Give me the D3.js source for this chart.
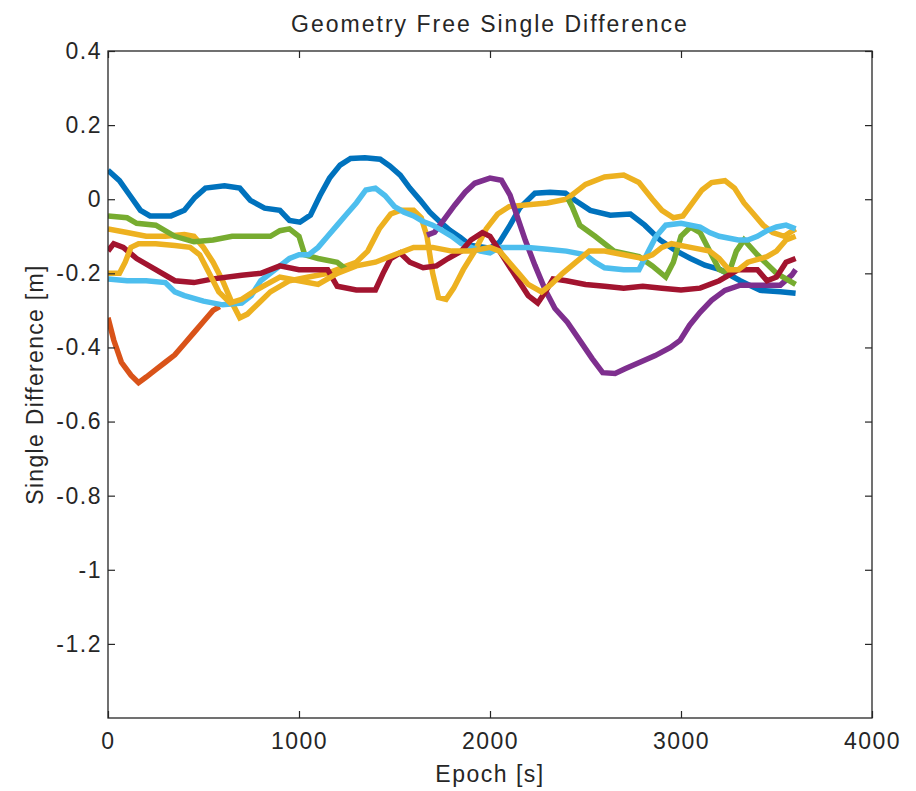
<!DOCTYPE html>
<meta charset="utf-8">
<style>
  body { margin: 0; background: #fff; }
  text { font-family: "Liberation Sans", Arial, Helvetica, sans-serif; fill: #262626; }
</style>
<body>
<script src="https://d3js.org/d3.v7.min.js"></script>
<script>

// satellite single differences, [epoch s, value m]
var sat1 = [[0,0.078],[60,0.05],[115,0.01],[170,-0.03],[220,-0.045],[330,-0.045],[400,-0.03],[455,0.005],[510,0.03],[610,0.036],[690,0.03],[745,-0.003],[820,-0.024],[900,-0.03],[950,-0.057],[1005,-0.062],[1060,-0.043],[1110,0.01],[1160,0.057],[1215,0.092],[1270,0.11],[1345,0.112],[1425,0.108],[1475,0.09],[1530,0.065],[1580,0.03],[1635,-0.003],[1685,-0.035],[1740,-0.062],[1790,-0.084],[1845,-0.103],[1895,-0.124],[2000,-0.132],[2050,-0.116],[2105,-0.07],[2155,-0.024],[2235,0.016],[2315,0.019],[2395,0.016],[2445,-0.003],[2525,-0.03],[2630,-0.043],[2735,-0.04],[2810,-0.07],[2890,-0.11],[2970,-0.138],[3050,-0.16],[3125,-0.178],[3205,-0.19],[3310,-0.22],[3415,-0.246],[3520,-0.25],[3600,-0.254]];
var sat2 = [[0,-0.32],[30,-0.38],[70,-0.44],[120,-0.475],[160,-0.495],[200,-0.48],[250,-0.46],[300,-0.44],[350,-0.42],[400,-0.39],[450,-0.36],[500,-0.33],[550,-0.3],[585,-0.29]];
var sat3 = [[0,-0.08],[100,-0.09],[200,-0.1],[300,-0.1],[400,-0.095],[450,-0.1],[500,-0.13],[550,-0.17],[600,-0.22],[650,-0.28],[690,-0.32],[730,-0.31],[790,-0.28],[850,-0.25],[950,-0.22],[1050,-0.21],[1150,-0.2],[1250,-0.18],[1300,-0.17],[1360,-0.14],[1420,-0.08],[1480,-0.04],[1530,-0.03],[1600,-0.03],[1640,-0.05],[1670,-0.1],[1700,-0.2],[1730,-0.265],[1770,-0.27],[1810,-0.24],[1860,-0.19],[1920,-0.14],[1980,-0.08],[2040,-0.04],[2100,-0.02],[2200,-0.015],[2300,-0.01],[2400,0.0],[2450,0.02],[2500,0.04],[2600,0.06],[2700,0.065],[2780,0.045],[2850,0.0],[2900,-0.03],[2960,-0.05],[3010,-0.045],[3060,-0.01],[3110,0.025],[3160,0.045],[3230,0.05],[3280,0.03],[3330,-0.01],[3380,-0.04],[3430,-0.07],[3480,-0.09],[3540,-0.1],[3600,-0.08]];
var sat4 = [[1670,-0.097],[1710,-0.089],[1765,-0.051],[1815,-0.016],[1870,0.019],[1920,0.043],[2000,0.057],[2060,0.051],[2105,0.011],[2140,-0.043],[2185,-0.111],[2235,-0.178],[2290,-0.246],[2340,-0.295],[2405,-0.332],[2470,-0.381],[2535,-0.43],[2590,-0.468],[2655,-0.47],[2710,-0.457],[2785,-0.44],[2865,-0.422],[2945,-0.4],[2995,-0.381],[3045,-0.34],[3100,-0.305],[3160,-0.273],[3230,-0.246],[3310,-0.232],[3415,-0.232],[3520,-0.232],[3580,-0.205],[3600,-0.19]];
// green is lost between ~1250 s and ~2400 s
var sat5a = [[0,-0.045],[100,-0.05],[150,-0.065],[250,-0.07],[350,-0.1],[450,-0.115],[550,-0.11],[650,-0.1],[750,-0.1],[850,-0.1],[900,-0.085],[950,-0.08],[1000,-0.1],[1030,-0.15],[1100,-0.16],[1200,-0.17],[1250,-0.19]];
var sat5b = [[2410,0.0],[2430,-0.02],[2470,-0.07],[2550,-0.1],[2650,-0.14],[2780,-0.155],[2850,-0.18],[2920,-0.21],[2960,-0.17],[3000,-0.1],[3050,-0.075],[3100,-0.09],[3150,-0.14],[3200,-0.19],[3250,-0.2],[3290,-0.14],[3330,-0.11],[3400,-0.15],[3500,-0.2],[3600,-0.23]];
var sat6 = [[0,-0.215],[100,-0.22],[200,-0.22],[300,-0.225],[350,-0.25],[400,-0.26],[500,-0.275],[600,-0.285],[700,-0.28],[750,-0.26],[800,-0.22],[900,-0.18],[950,-0.16],[1000,-0.15],[1050,-0.15],[1100,-0.13],[1150,-0.1],[1200,-0.07],[1250,-0.04],[1300,-0.01],[1350,0.025],[1400,0.03],[1450,0.01],[1500,-0.02],[1550,-0.035],[1600,-0.045],[1650,-0.06],[1700,-0.07],[1750,-0.085],[1800,-0.1],[1850,-0.12],[1900,-0.13],[1950,-0.14],[2000,-0.145],[2050,-0.13],[2100,-0.13],[2200,-0.13],[2300,-0.135],[2400,-0.14],[2500,-0.15],[2550,-0.17],[2600,-0.185],[2700,-0.19],[2780,-0.19],[2830,-0.14],[2870,-0.1],[2920,-0.07],[3000,-0.065],[3100,-0.075],[3150,-0.09],[3200,-0.1],[3300,-0.11],[3350,-0.11],[3400,-0.1],[3450,-0.085],[3500,-0.075],[3550,-0.07],[3600,-0.08]];
var sat7 = [[0,-0.14],[30,-0.12],[80,-0.13],[150,-0.16],[250,-0.19],[350,-0.22],[450,-0.225],[550,-0.215],[700,-0.205],[800,-0.2],[900,-0.18],[1000,-0.19],[1150,-0.19],[1200,-0.235],[1300,-0.245],[1400,-0.245],[1440,-0.2],[1480,-0.16],[1530,-0.145],[1580,-0.17],[1650,-0.185],[1720,-0.18],[1780,-0.16],[1850,-0.14],[1900,-0.11],[1960,-0.09],[2000,-0.1],[2050,-0.14],[2100,-0.18],[2150,-0.22],[2200,-0.26],[2250,-0.28],[2290,-0.25],[2330,-0.215],[2400,-0.22],[2500,-0.23],[2600,-0.235],[2700,-0.24],[2800,-0.235],[2900,-0.24],[3000,-0.245],[3100,-0.24],[3200,-0.22],[3300,-0.19],[3400,-0.19],[3450,-0.22],[3500,-0.21],[3550,-0.17],[3600,-0.16]];
var sat8 = [[0,-0.2],[60,-0.2],[90,-0.17],[120,-0.13],[160,-0.12],[250,-0.12],[350,-0.125],[430,-0.13],[480,-0.15],[530,-0.2],[580,-0.25],[640,-0.28],[700,-0.27],[760,-0.25],[830,-0.23],[900,-0.21],[1000,-0.22],[1100,-0.23],[1200,-0.2],[1300,-0.18],[1400,-0.17],[1500,-0.15],[1600,-0.13],[1700,-0.13],[1800,-0.14],[1900,-0.14],[2000,-0.13],[2050,-0.14],[2100,-0.17],[2150,-0.2],[2200,-0.23],[2270,-0.25],[2320,-0.23],[2380,-0.2],[2450,-0.17],[2520,-0.14],[2600,-0.14],[2700,-0.15],[2800,-0.16],[2850,-0.15],[2900,-0.13],[2950,-0.12],[3050,-0.13],[3150,-0.14],[3200,-0.16],[3250,-0.19],[3300,-0.19],[3350,-0.17],[3450,-0.155],[3500,-0.14],[3550,-0.11],[3600,-0.1]];

var series = [sat1, sat2, sat3, sat4, sat5a, sat5b, sat6, sat7, sat8];
var colors = ["#0072BD", "#D95319", "#EDB120", "#7E2F8E", "#77AC30", "#77AC30", "#4DBEEE", "#A2142F", "#EDB120"];

var xTicks = [0, 1000, 2000, 3000, 4000];
var yTicks = [0.4, 0.2, 0, -0.2, -0.4, -0.6, -0.8, -1, -1.2];

var width = 916,
    height = 791;
var mLeft = 108, mRight = 872, mTop = 51, mBottom = 718;

var svg = d3.select("body").append("svg")
    .attr("width", width)
    .attr("height", height);

var x = d3.scaleLinear().domain([0, 4000]).range([mLeft, mRight]);
var y = d3.scaleLinear().domain([-1.4, 0.4]).range([mBottom, mTop]);

svg.append("clipPath").attr("id", "plot")
  .append("rect")
    .attr("x", mLeft).attr("y", mTop)
    .attr("width", mRight - mLeft).attr("height", mBottom - mTop);

var line = d3.line()
    .x(function(d) { return x(d[0]); })
    .y(function(d) { return y(d[1]); });

svg.append("g")
    .attr("clip-path", "url(#plot)")
  .selectAll("path")
  .data(series)
  .enter().append("path")
    .attr("d", line)
    .attr("fill", "none")
    .attr("stroke", function(d, i) { return colors[i]; })
    .attr("stroke-width", 5.5)
    .attr("stroke-linejoin", "miter");

// box with inward ticks on all four sides
var tickLen = 7;
svg.append("rect")
    .attr("x", mLeft).attr("y", mTop)
    .attr("width", mRight - mLeft).attr("height", mBottom - mTop)
    .attr("fill", "none")
    .attr("stroke", "#262626")
    .attr("stroke-width", 1.3);

svg.append("g").attr("transform", "translate(0," + mBottom + ")")
    .call(d3.axisBottom(x).tickValues(xTicks).tickSizeInner(-tickLen).tickSizeOuter(0).tickPadding(15)
      .tickFormat(d3.format("d")))
    .call(styleAxis);
svg.append("g").attr("transform", "translate(0," + mTop + ")")
    .call(d3.axisTop(x).tickValues(xTicks).tickSizeInner(-tickLen).tickSizeOuter(0).tickFormat(""))
    .call(styleAxis);
svg.append("g").attr("transform", "translate(" + mLeft + ",0)")
    .call(d3.axisLeft(y).tickValues(yTicks).tickSizeInner(-tickLen).tickSizeOuter(0).tickPadding(6)
      .tickFormat(function(d) { return String(d); }))
    .call(styleAxis);
svg.append("g").attr("transform", "translate(" + mRight + ",0)")
    .call(d3.axisRight(y).tickValues(yTicks).tickSizeInner(-tickLen).tickSizeOuter(0).tickFormat(""))
    .call(styleAxis);

function styleAxis(g) {
  g.select(".domain").remove();
  g.selectAll(".tick line").attr("stroke", "#262626").attr("stroke-width", 1.2);
  g.selectAll(".tick text")
      .attr("font-size", 23)
      .attr("letter-spacing", "1.5px")
      .style("font-family", "'Liberation Sans', Arial, sans-serif")
      .attr("fill", "#262626");
}

svg.append("text")
    .attr("x", (mLeft + mRight) / 2)
    .attr("y", 32)
    .attr("text-anchor", "middle")
    .attr("font-size", 23)
    .attr("letter-spacing", "2px")
    .text("Geometry Free Single Difference");

svg.append("text")
    .attr("x", (mLeft + mRight) / 2)
    .attr("y", 782)
    .attr("text-anchor", "middle")
    .attr("font-size", 23)
    .attr("letter-spacing", "1.5px")
    .text("Epoch [s]");

svg.append("text")
    .attr("transform", "translate(43," + (mTop + mBottom) / 2 + ") rotate(-90)")
    .attr("text-anchor", "middle")
    .attr("font-size", 23)
    .attr("letter-spacing", "1.3px")
    .text("Single Difference [m]");

</script>
</body>
